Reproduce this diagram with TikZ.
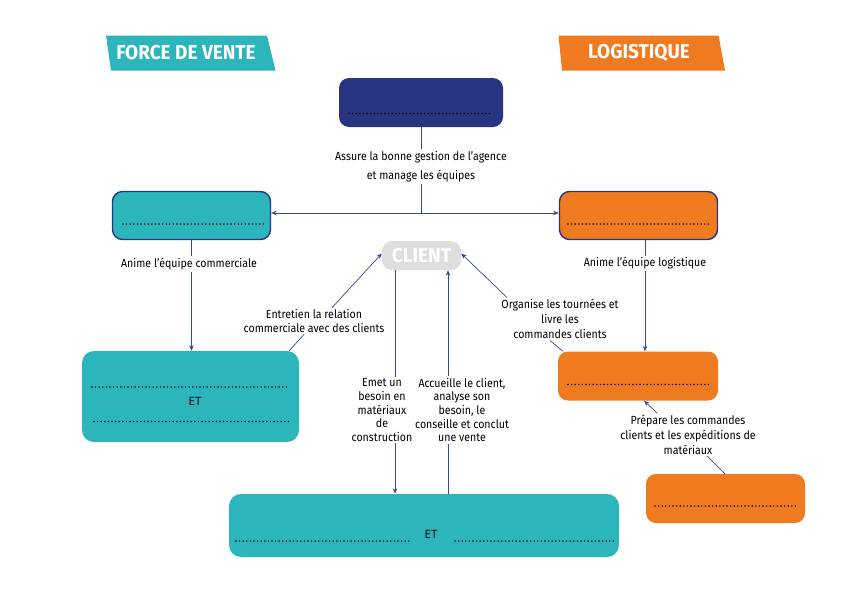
\documentclass[tikz,border=0pt]{standalone}
\usepackage{fontspec}
\setmainfont{Fira Sans}
\newfontfamily\lblfont[FakeStretch=0.9]{Fira Sans}
\newfontfamily\banfont[FakeStretch=0.95]{Fira Sans}
\newfontfamily\etfont{Open Sans}
\usetikzlibrary{arrows.meta}
\definecolor{teal}{HTML}{2CB5BB}
\definecolor{orng}{HTML}{F07A1F}
\definecolor{navy}{HTML}{283582}
\definecolor{lnk}{HTML}{3A4790}
\definecolor{clgrey}{HTML}{DEDEDE}
\tikzset{
  box/.style={rounded corners=10pt, inner sep=0pt, minimum width=#1},
  bh/.style={minimum height=#1},
  bord/.style={draw=navy, line width=1.4pt},
  lbl/.style={font=\lblfont\fontsize{11.8}{14}\selectfont, align=center, inner sep=1.5pt, text=black},
  ban/.style={font=\banfont\bfseries\fontsize{20}{21}\selectfont, text=white, inner sep=0pt},
  link/.style={draw=lnk, line width=0.7pt},
  arr/.style={link, -{Stealth[length=5.5pt,width=4.5pt]}},
  arrb/.style={link, {Stealth[length=5.5pt,width=4.5pt]}-{Stealth[length=5.5pt,width=4.5pt]}},
  dotl/.style={line width=1.6pt, line cap=round, dash pattern=on 0pt off 3.6pt, draw=black},
  etlbl/.style={font=\etfont\fontsize{11.5}{12}\selectfont, inner sep=0pt}
}
\begin{document}
\begin{tikzpicture}[x=1pt,y=-1pt]
\useasboundingbox (0,0) rectangle (842,595);
% banners
\fill[teal] (106,35.5) -- (267,35.5) -- (275.5,70.5) -- (111,70.5) -- cycle;
\node[ban] (fvban) at (186,53) {FORCE DE VENTE};
\fill[orng] (558.5,35.5) -- (718.5,35.5) -- (725,70.5) -- (562,70.5) -- cycle;
\node[ban] (lgban) at (639,53) {LOGISTIQUE};
% boxes
\node[box=164pt, bh=49pt, fill=navy] (dir) at (421,102.5) {};
\draw[dotl] (349,113.5) -- (493,113.5);
\node[box=158pt, bh=48pt, fill=teal, bord] (fv) at (191.5,215.5) {};
\draw[dotl] (123,224) -- (265,224);
\node[box=158pt, bh=48pt, fill=orng, bord] (lg) at (638.5,215.5) {};
\draw[dotl] (568,224) -- (710,224);
\node[box=79pt, bh=29pt, fill=clgrey, font=\banfont\bfseries\fontsize{20}{21}\selectfont, text=white] (client) at (421.5,255.5) {CLIENT};
\node[box=217pt, bh=91pt, fill=teal, rounded corners=12pt] (et1) at (190.5,396.5) {};
\draw[dotl] (92,387) -- (288,387);
\draw[dotl] (94,421.5) -- (290,421.5);
\node[etlbl] (et1t) at (195,401) {ET};
\node[box=160pt, bh=49pt, fill=orng] (om) at (638,376) {};
\draw[dotl] (568,384.5) -- (710,384.5);
\node[box=159pt, bh=49pt, fill=orng] (ob) at (725.5,498.5) {};
\draw[dotl] (655,506) -- (797,506);
\node[box=390pt, bh=63pt, fill=teal, rounded corners=12pt] (et2) at (424,525.5) {};
\draw[dotl] (236,541) -- (409,541);
\draw[dotl] (455,541) -- (614,541);
\node[etlbl] (et2t) at (431,534) {ET};
% labels
\node[lbl] (assure) at (421,166.5) {Assure la bonne gestion de l’agence\\[5pt]et manage les équipes};
\node[lbl] (anime1) at (189,264) {Anime l’équipe commerciale};
\node[lbl] (anime2) at (645,263.5) {Anime l’équipe logistique};
\node[lbl] (entretien) at (314,321) {Entretien la relation\\commerciale avec des clients};
\node[lbl] (organise) at (560,319) {Organise les tournées et\\[1pt]livre les\\[1pt]commandes clients};
\node[lbl, font=\lblfont\fontsize{11.8}{13.6}\selectfont] (emet) at (382,410) {Emet un\\besoin en\\matériaux\\de\\construction};
\node[lbl, font=\lblfont\fontsize{11.8}{13.6}\selectfont] (accueille) at (462,410) {Accueille le client,\\analyse son\\besoin, le\\conseille et conclut\\une vente};
\node[lbl] (prepare) at (688,434.5) {Prépare les commandes\\[1pt]clients et les expéditions de\\[1pt]matériaux};
% connectors
\coordinate (hj) at (421,213);
\draw[link] (dir.south) -- (assure.north);
\draw[link] (assure.south) -- (hj);
\draw[arrb] (fv.east |- hj) -- (lg.west |- hj);
\draw[link] (fv.south) -- (fv.south |- anime1.north);
\draw[arr] (fv.south |- anime1.south) -- (fv.south |- et1.north);
\coordinate (rx) at ([xshift=6.5pt]lg.south);
\draw[link] (rx) -- (rx |- anime2.north);
\draw[arr] (rx |- anime2.south) -- (rx |- om.north);
\draw[link] ([xshift=-10pt]et1.north east) -- ([xshift=-10pt]entretien.south);
\draw[arr] ([xshift=18pt]entretien.north) -- ([yshift=2pt]client.west);
\coordinate (c1) at ([xshift=-26.5pt]client.south);
\coordinate (c2) at ([xshift=26.5pt]client.south);
\draw[link] (c1) -- (c1 |- emet.north);
\draw[arr] (c1 |- emet.south) -- (c1 |- et2.north);
\draw[link] (c2 |- et2.north) -- (c2 |- accueille.south);
\draw[arr] (c2 |- accueille.north) -- (c2);
\draw[arr] ([xshift=-53pt]organise.north) -- ([yshift=2pt]client.east);
\draw[link] ([xshift=-10pt]organise.south) -- ([xshift=5pt]om.north west);
\draw[arr] ([xshift=-31pt]prepare.north) -- ([xshift=6pt]om.south);
\draw[link] ([xshift=19pt]prepare.south) -- ([xshift=-0.5pt]ob.north);
\end{tikzpicture}
\end{document}
